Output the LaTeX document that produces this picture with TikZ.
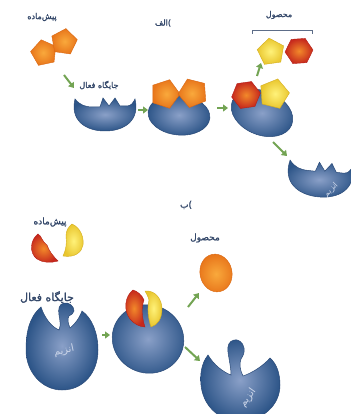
\documentclass[tikz,border=0pt]{standalone}
\usepackage{fontspec}
\usetikzlibrary{shapes.geometric,arrows.meta}
\TeXXeTstate=1
\newfontfamily\arabicfont[Script=Arabic, FakeBold=1.6]{DejaVu Sans}
\newfontfamily\arabiclight[Script=Arabic]{DejaVu Sans}

\definecolor{enzL}{HTML}{8AA0C8}
\definecolor{enzD}{HTML}{2D5588}
\definecolor{enzE}{HTML}{2A4A78}
\definecolor{enzT}{HTML}{CDD7EA}
\definecolor{orL}{HTML}{F9A93C}
\definecolor{orD}{HTML}{E8761B}
\definecolor{orE}{HTML}{DA6812}
\definecolor{rdL}{HTML}{F2892A}
\definecolor{rdD}{HTML}{C6281D}
\definecolor{rdE}{HTML}{B52018}
\definecolor{yeL}{HTML}{FFF27A}
\definecolor{yeD}{HTML}{E9C62E}
\definecolor{yeE}{HTML}{D4AE1E}
\definecolor{grn}{HTML}{73A453}
\definecolor{lblc}{HTML}{34486A}

\tikzset{
  enz/.style={inner color=enzL, outer color=enzD, draw=enzE, line width=0.5pt},
  orpiece/.style={inner color=orL, outer color=orD, draw=orE, line width=0.4pt},
  rdpiece/.style={inner color=rdL, outer color=rdD, draw=rdE, line width=0.4pt},
  yepiece/.style={inner color=yeL, outer color=yeD, draw=yeE, line width=0.4pt},
  pent/.style={regular polygon, regular polygon sides=5, inner sep=0pt, minimum size=#1},
  hexa/.style={regular polygon, regular polygon sides=6, inner sep=0pt, minimum size=#1},
  garrow/.style={draw=grn, line width=2pt, -{Triangle[length=5pt,width=7pt]}},
  lbl/.style={text=lblc, inner sep=0pt, font=\arabicfont\fontsize{#1}{#1}\selectfont},
  enztxt/.style={text=enzT, inner sep=0pt, font=\arabiclight\fontsize{#1}{#1}\selectfont},
}

\begin{document}
\begin{tikzpicture}[x=1pt,y=-1pt]
\useasboundingbox (0,0) rectangle (350,414);
\fill[white] (0,0) rectangle (350,414);

% ---------- part (a): lock and key ----------
\node[lbl=8] (subA) at (42,17) {\beginR پیش‌ماده\endR};
\node[lbl=8] (partA) at (163,23) {\beginR الف\endR)};
\node[lbl=8] (siteA) at (99,85) {\beginR جایگاه فعال\endR};
\node[lbl=8] (prodA) at (279,15) {\beginR محصول\endR};

% substrate: two joined pentagons
\node[pent=27pt, orpiece, rotate=12] (s1) at (44,53) {};
\node[pent=27pt, orpiece, rotate=-8] (s2) at (64,42) {};

% free enzyme with its active site
\begin{scope}[shift={(105,112)}]
  \shadedraw[enz] (-30,-13) .. controls (-25,-7) and (-20,-5) .. (-12,-5) -- (-5,-5)
    -- (-2,-14) -- (4,-6) -- (10,-14) -- (15,-6) -- (22,-6)
    .. controls (26,-6) and (28,-9) .. (30,-13)
    .. controls (35,8) and (20,19) .. (0,19)
    .. controls (-20,19) and (-35,8) .. (-30,-13) -- cycle;
\end{scope}

% enzyme-substrate complex
\shadedraw[enz, rotate around={-6:(179,115)}] (179,115) ellipse [x radius=31, y radius=20];
\node[pent=30pt, orpiece, rotate=198] (c1) at (165,94) {};
\node[pent=30pt, orpiece, rotate=166] (c2) at (193,93) {};

% enzyme-product complex
\shadedraw[enz, rotate around={-22:(262,113)}] (262,113) ellipse [x radius=32, y radius=22];
\node[hexa=29pt, rdpiece, rotate=8] (c3) at (246,95) {};
\node[pent=31pt, yepiece, rotate=-14] (c4) at (274,94) {};

% released products
\draw[lblc!80, line width=0.7pt] (252,34) -- (252,30) -- (312,30) -- (312,34);
\node[pent=28pt, yepiece, rotate=8] (pY) at (271,52) {};
\node[hexa=28pt, rdpiece, rotate=4] (pR) at (299,51) {};

% recovered enzyme
\begin{scope}[shift={(320,177)}, scale=1.05, rotate=-6]
  \shadedraw[enz] (-30,-13) .. controls (-25,-7) and (-20,-5) .. (-12,-5) -- (-5,-5)
    -- (-2,-14) -- (4,-6) -- (10,-14) -- (15,-6) -- (22,-6)
    .. controls (26,-6) and (28,-9) .. (30,-13)
    .. controls (35,8) and (20,19) .. (0,19)
    .. controls (-20,19) and (-35,8) .. (-30,-13) -- cycle;
\end{scope}
\node[enztxt=8, rotate=45] (enzA) at (331,190) {انزیم};

% arrows of part (a)
\coordinate (a1s) at (64,75);  \coordinate (a1e) at (74,88);
\coordinate (a2s) at (138,110); \coordinate (a2e) at (148,110);
\coordinate (a3s) at (217,108); \coordinate (a3e) at (228,108);
\coordinate (a4s) at (257,76);  \coordinate (a4e) at (261,63);
\coordinate (a5s) at (273,142); \coordinate (a5e) at (287,156);
\draw[garrow] (a1s) -- (a1e);
\draw[garrow, line width=1.5pt] (a2s) -- (a2e);
\draw[garrow, line width=1.5pt] (a3s) -- (a3e);
\draw[garrow] (a4s) -- (a4e);
\draw[garrow] (a5s) -- (a5e);

% ---------- part (b): induced fit ----------
\node[lbl=9] (partB) at (186,205) {\beginR ب\endR)};
\node[lbl=9] (subB) at (50,222) {\beginR پیش‌ماده\endR};
\node[lbl=11] (siteB) at (47,297) {\beginR جایگاه فعال\endR};
\node[lbl=9] (prodB) at (205,238) {\beginR محصول\endR};

% substrate pieces
\shadedraw[rdpiece] (38,234) .. controls (30,240) and (29,253) .. (37,259)
  .. controls (43,263) and (51,263) .. (58,261)
  .. controls (53,256) and (49,251) .. (47,245)
  .. controls (45,243) and (43,242) .. (42,239)
  .. controls (41,237) and (40,235) .. (38,234) -- cycle;
\shadedraw[yepiece] (72,224) .. controls (81,228) and (84,238) .. (83,245)
  .. controls (82,252) and (75,258) .. (63,256)
  .. controls (66,250) and (67,243) .. (66,236)
  .. controls (66,231) and (68,227) .. (72,224) -- cycle;

% free enzyme with flexible active site
\begin{scope}[shift={(62,349)}]
  \shadedraw[enz] (-21,-42) .. controls (-34,-31) and (-36,-14) .. (-36,1)
    .. controls (-36,23) and (-20,41) .. (0,41)
    .. controls (22,41) and (36,23) .. (36,1)
    .. controls (36,-16) and (30,-31) .. (20,-38)
    .. controls (17,-30) and (12,-24) .. (8,-21)
    .. controls (6,-26) and (5,-30) .. (7,-33)
    .. controls (9,-35) and (12,-35) .. (12,-38)
    .. controls (12,-43) and (7,-47) .. (2,-46)
    .. controls (-3,-45) and (-4,-40) .. (-3,-34)
    .. controls (-2,-28) and (-1,-24) .. (-3,-19)
    .. controls (-10,-22) and (-17,-30) .. (-21,-42) -- cycle;
\end{scope}
\node[enztxt=10, rotate=12] (enzB1) at (64,351) {انزیم};

% enzyme wrapped round the substrate
\shadedraw[enz, rotate around={-20:(148,339)}] (148,339) ellipse [x radius=36, y radius=34];
\shadedraw[rdpiece] (133,290) .. controls (125,296) and (123,310) .. (130,319)
  .. controls (134,324) and (140,327) .. (145,327)
  .. controls (142,318) and (141,308) .. (144,300)
  .. controls (142,295) and (137,291) .. (133,290) -- cycle;
\shadedraw[yepiece] (145,291) .. controls (156,290) and (162,300) .. (162,309)
  .. controls (162,318) and (158,325) .. (151,327)
  .. controls (148,318) and (147,308) .. (149,300)
  .. controls (148,296) and (146,293) .. (145,291) -- cycle;

% product
\shadedraw[orpiece, rotate around={12:(216,273)}] (216,273) ellipse [x radius=16, y radius=19];

% recovered enzyme
\shadedraw[enz] (208,355) .. controls (201,364) and (200,375) .. (201,385)
  .. controls (203,405) and (218,421) .. (240,421)
  .. controls (263,421) and (280,405) .. (280,385)
  .. controls (280,374) and (277,364) .. (270,358)
  .. controls (263,366) and (252,373) .. (243,376)
  .. controls (240,370) and (239,364) .. (241,359)
  .. controls (243,356) and (245,352) .. (244,348)
  .. controls (243,342) and (238,339) .. (234,340)
  .. controls (229,341) and (227,346) .. (228,352)
  .. controls (229,360) and (231,367) .. (231,375)
  .. controls (223,372) and (214,365) .. (208,355) -- cycle;
\node[enztxt=10, rotate=55] (enzB2) at (248,398) {انزیم};

% arrows of part (b)
\coordinate (b1s) at (102,335); \coordinate (b1e) at (110,335);
\coordinate (b2s) at (188,307); \coordinate (b2e) at (199,293);
\coordinate (b3s) at (185,347); \coordinate (b3e) at (200,361);
\draw[garrow, line width=1.3pt] (b1s) -- (b1e);
\draw[garrow] (b2s) -- (b2e);
\draw[garrow] (b3s) -- (b3e);
\end{tikzpicture}
\end{document}
